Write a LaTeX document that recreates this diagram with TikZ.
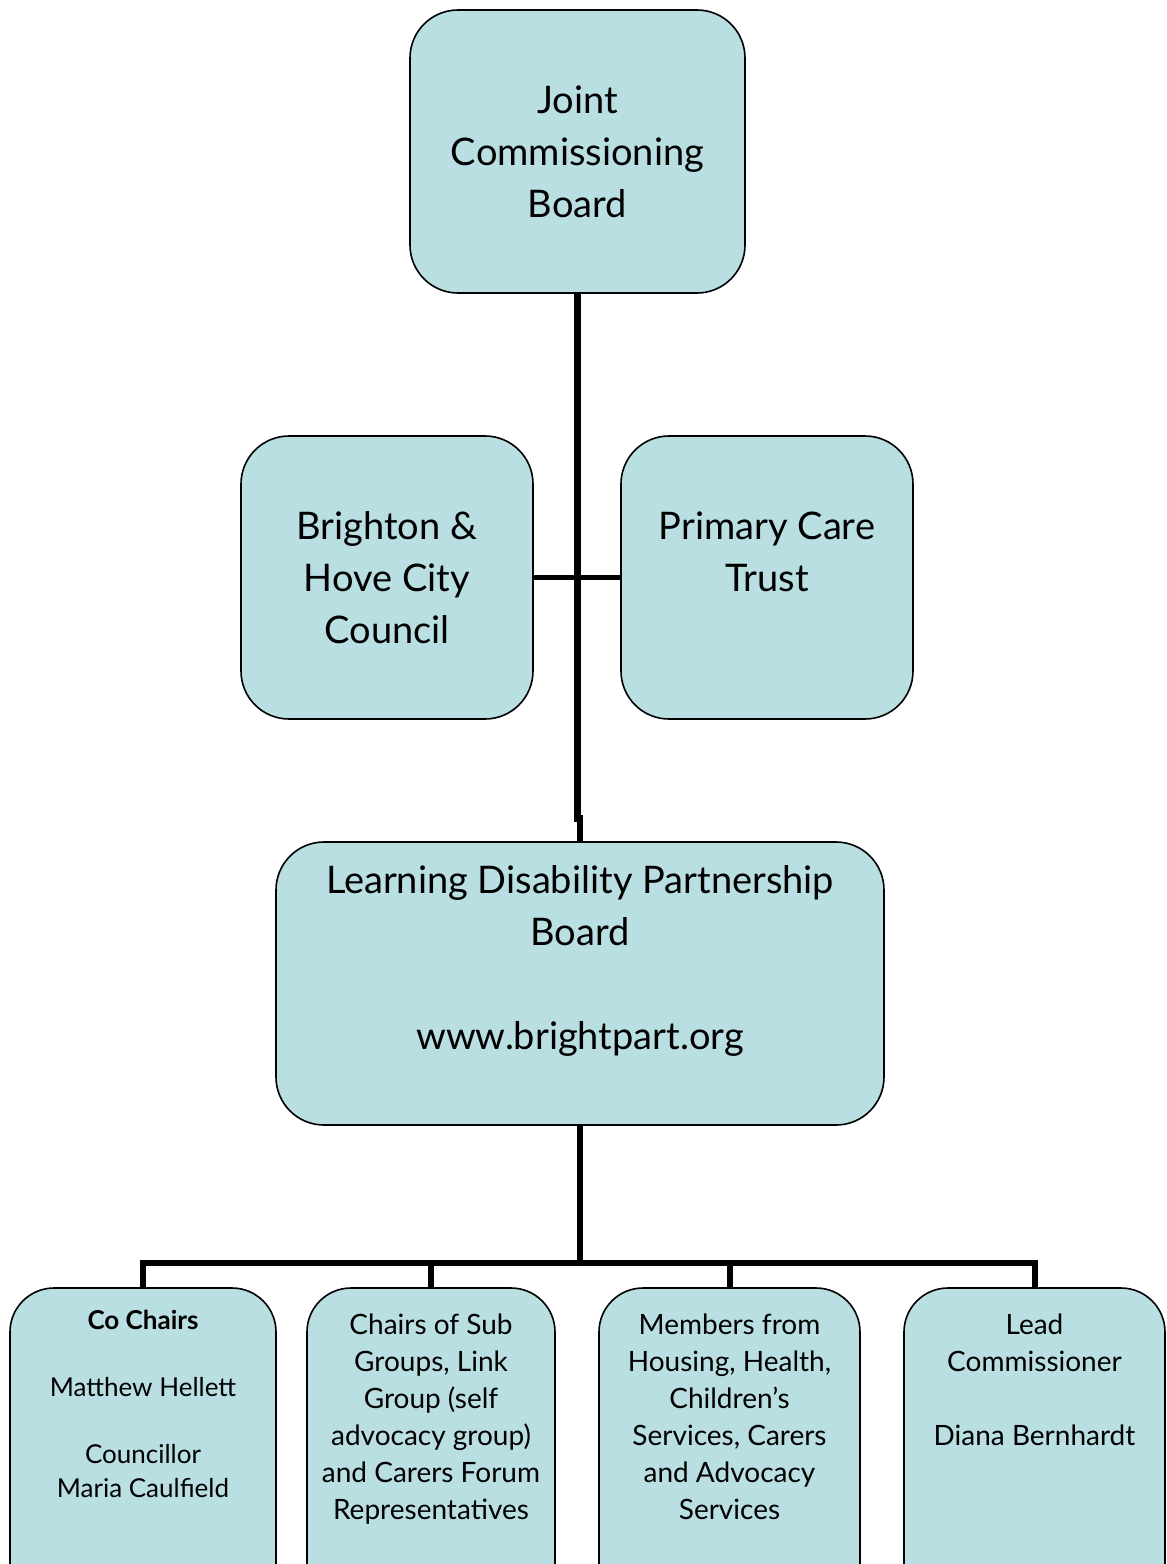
\documentclass[tikz,border=0pt]{standalone}
\usepackage{fontspec}
\setmainfont{Lato}
\usetikzlibrary{calc}
\definecolor{boardblue}{HTML}{B9DFE3}

\begin{document}
\begin{tikzpicture}[
    board/.style={draw=black, line width=1.2pt, fill=boardblue, rounded corners=36pt,
        minimum height=212.25pt, align=center, inner sep=0pt,
        font=\fontsize{28.5pt}{39pt}\selectfont},
    member/.style={draw=black, line width=1.2pt, fill=boardblue, rounded corners=33pt,
        minimum height=249pt, align=center, inner sep=0pt,
        font=\fontsize{21pt}{27.75pt}\selectfont},
    link/.style={line width=5pt},
    crossbar/.style={line width=4pt},
    tree/.style={line width=4.5pt},
    x=0.75pt, y=-0.75pt]

    \clip (0,0) rectangle (1167,1564);

    % ================= the two top rows =================
    \node[board, minimum width=251.25pt] (jcb) at (577.5, 151.5)
        {Joint\\Commissioning\\Board};
    \node[board, minimum width=219pt] (bhcc) at (387, 577.5)
        {Brighton \&\\Hove City\\Council};
    \node[board, minimum width=219pt] (pct) at (767, 577.5)
        {Primary Care\\Trust\\\mbox{}};

    % ================= the partnership board =================
    \node[board, minimum width=456pt] (ldpb) at (580, 983.5)
        {Learning Disability Partnership\\Board\\\mbox{}\\www.brightpart.org\\\mbox{}};

    % the board line runs straight down, with a small jog above the partnership board -
    \coordinate (jog) at ($(jcb.south)+(0,525)$);
    \draw[link] (jcb.south) -- (jog) -| (ldpb.north);
    \draw[crossbar] (bhcc.east) -- (pct.west);

    % ================= row of members (cut off at the page foot) =================
    \node[member, minimum width=199.5pt, font=\fontsize{19.5pt}{25.1pt}\selectfont] (cochairs) at (143, 1454)
        {\textbf{Co Chairs}\\\mbox{}\\Matthew Hellett\\\mbox{}\\Councillor\\Maria Caulfield\\\mbox{}\\\mbox{}\\\mbox{}};
    \node[member, minimum width=186pt] (subgroups) at (431, 1454)
        {Chairs of Sub\\Groups, Link\\Group (self\\advocacy group)\\and Carers Forum\\Representatives\\\mbox{}\\\mbox{}};
    \node[member, minimum width=195.75pt] (members) at (729.5, 1454)
        {Members from\\Housing, Health,\\Children’s\\Services, Carers\\and Advocacy\\Services\\\mbox{}\\\mbox{}};
    \node[member, minimum width=195.75pt] (lead) at (1034.5, 1454)
        {Lead\\Commissioner\\\mbox{}\\Diana Bernhardt\\\mbox{}\\\mbox{}\\\mbox{}\\\mbox{}};

    % one bus under the partnership board feeds all four -
    \coordinate (bus) at (580, 1263);
    \draw[tree] (ldpb.south) -- (bus);
    \foreach \seat in {cochairs, subgroups, members, lead}
        \draw[tree] (bus) -| (\seat.north);
\end{tikzpicture}
\end{document}
